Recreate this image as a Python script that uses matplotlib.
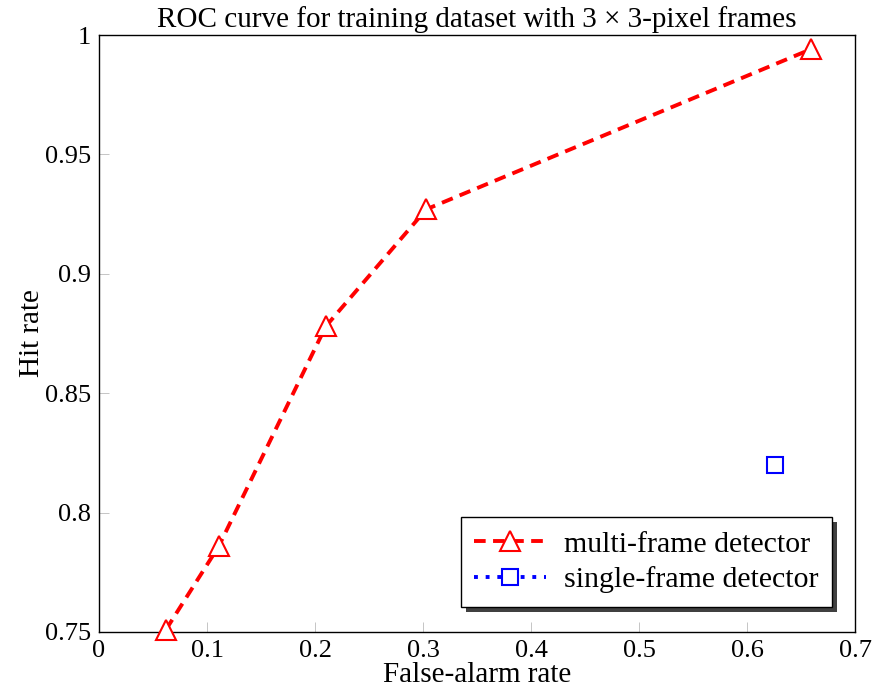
import matplotlib
matplotlib.use("Agg")
import matplotlib.pyplot as plt
from matplotlib.patches import Rectangle
from matplotlib.transforms import IdentityTransform

plt.rcParams['font.family'] = ['Liberation Serif', 'DejaVu Serif']

# multi-frame detector (ROC points)
fa_multi = [0.062, 0.111, 0.210, 0.303, 0.659]
hit_multi = [0.751, 0.786, 0.878, 0.927, 0.994]
# single-frame detector
fa_single = [0.626]
hit_single = [0.820]

xticks = [0, 0.1, 0.2, 0.3, 0.4, 0.5, 0.6, 0.7]
yticks = [0.75, 0.8, 0.85, 0.9, 0.95, 1.0]
ytick_labels = ["0.75", "0.8", "0.85", "0.9", "0.95", "1"]
xtick_labels = ["0", "0.1", "0.2", "0.3", "0.4", "0.5", "0.6", "0.7"]

fig = plt.figure(figsize=(8.76, 6.92), dpi=100)
ax = fig.add_axes([99/876, 60/692, 756/876, 597/692])

ax.plot(fa_multi, hit_multi, color="red", linestyle=(0, (3.0, 1.9)), linewidth=2.8,
        marker="^", markersize=14, markerfacecolor="white", markeredgecolor="red",
        markeredgewidth=1.5, label="multi-frame detector", clip_on=False, zorder=3)
ax.plot(fa_single, hit_single, color="blue", linestyle=(0, (1, 2)), linewidth=2.8,
        marker="s", markersize=11, markerfacecolor="white", markeredgecolor="blue",
        markeredgewidth=1.5, label="single-frame detector", clip_on=False, zorder=3)

ax.set_xlim(0, 0.7)
ax.set_ylim(0.75, 1.0)
ax.set_xticks(xticks)
ax.set_xticklabels(xtick_labels)
ax.set_yticks(yticks)
ax.set_yticklabels(ytick_labels)
ax.tick_params(direction="in", length=7, width=0.6, color="#bbbbbb", labelsize=19,
               pad=6, top=False, right=False)
for s in ax.spines.values():
    s.set_linewidth(1.0)

ax.set_title("ROC curve for training dataset with 3 \u00d7 3-pixel frames", fontsize=21, pad=6)
ax.set_xlabel("False-alarm rate", fontsize=21, labelpad=0)
ax.set_ylabel("Hit rate", fontsize=21, labelpad=0)

leg = ax.legend(loc="lower right", bbox_to_anchor=(0.9696, 0.042), fontsize=21.5,
                frameon=True, fancybox=False, edgecolor="black", framealpha=1,
                handlelength=2.4, borderpad=0.45, labelspacing=0.3, handletextpad=0.6,
                borderaxespad=0)
leg.get_frame().set_linewidth(1.0)
leg.set_zorder(10)

# dark offset shadow behind the legend box
fig.canvas.draw()
bb = leg.get_frame().get_window_extent()
shadow = Rectangle((bb.x0 + 5, bb.y0 - 5), bb.width, bb.height, transform=IdentityTransform(),
                   facecolor="#404040", edgecolor="none", zorder=9)
ax.add_artist(shadow)

fig.savefig("out.png", dpi=100)
